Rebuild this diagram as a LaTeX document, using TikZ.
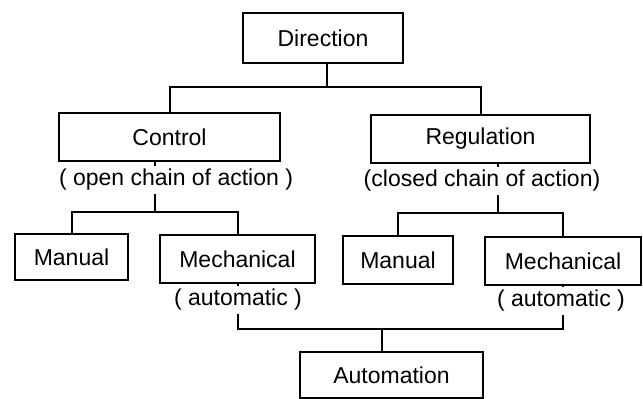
\documentclass[tikz,border=0pt]{standalone}
\usepackage{fontspec}
\setmainfont{Liberation Sans}
\usetikzlibrary{positioning,calc}

\begin{document}
\begin{tikzpicture}[
  x=0.5pt,y=-0.5pt,
  nodo/.style={draw,line width=1pt,inner sep=0pt,align=center,
               minimum height=24pt,font=\fontsize{11.5}{13}\selectfont},
  nota/.style={fill=white,inner sep=1.5pt,font=\fontsize{11.5}{13}\selectfont},
  linea/.style={draw,line width=1pt}
]
\useasboundingbox (0,0) rectangle (643,399);
% cajas
\node[nodo,minimum width=80pt,minimum height=25pt] (dir) at (323,38) {Direction};
\node[nodo,minimum width=110.5pt] (ctrl) at (169.5,137) {Control};
\node[nodo,minimum width=109.5pt] (reg) at (480.5,139) {Regulation};
\node[nodo,minimum width=56.5pt,minimum height=23pt] (man1) at (71.5,257) {Manual};
\node[nodo,minimum width=77.5pt] (mech1) at (237.5,259) {Mechanical};
\node[nodo,minimum width=55pt] (man2) at (398,260) {Manual};
\node[nodo,minimum width=78pt] (mech2) at (563,261) {Mechanical};
\node[nodo,minimum width=91.5pt,minimum height=23pt] (auto) at (391.5,375) {Automation};
% uniones
\coordinate (j0) at (327,87);
\coordinate (j1) at (155,212);
\coordinate (j2) at (498,213);
\coordinate (j3) at (382,329);
\draw[linea] (dir.south -| j0) -- (j0);
\draw[linea] (ctrl.north) |- (j0) -| (reg.north);
\draw[linea] (ctrl.south -| j1) -- (j1);
\draw[linea] (man1.north) |- (j1) -| (mech1.north);
\draw[linea] (reg.south -| j2) -- (j2);
\draw[linea] (man2.north) |- (j2) -| (mech2.north);
\draw[linea] (mech1.south) |- (j3) -| (mech2.south);
\draw[linea] (j3) -- (j3 |- auto.north);
% notas
\node[nota] (ctrlnota) at (176,180) {( open chain of action )};
\node[nota] (regnota) at (482,181) {(closed chain of action)};
\node[nota] (mech1nota) at (238,300) {( automatic )};
\node[nota] (mech2nota) at (561,301) {( automatic )};
\end{tikzpicture}
\end{document}
